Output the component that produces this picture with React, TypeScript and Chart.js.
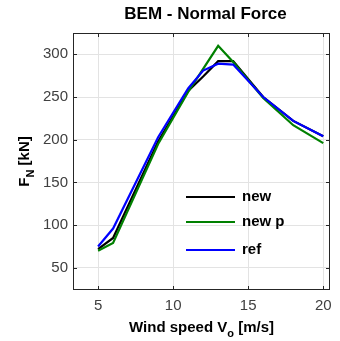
import React, { useEffect, useRef } from "react";
import { Chart, registerables } from "chart.js";

Chart.register(...registerables);

const xNew = [5, 6, 9, 11, 12, 13, 14, 16, 18, 20];
const yNew = [72, 85, 198, 257, 274, 292, 292, 250, 222, 204];
const xNewP = [5, 6, 9, 11, 13, 14, 16, 18, 20];
const yNewP = [70, 79, 195, 256, 310, 291, 249, 217, 196];
const xRef = [5, 6, 9, 11, 12, 13, 14, 16, 18, 20];
const yRef = [75, 96, 203, 260, 281, 289, 288, 250, 222, 204];

const xTicks = [5, 10, 15, 20];
const yTicks = [50, 100, 150, 200, 250, 300];
const seriesNames = ["new", "new p", "ref"];
const seriesColors = ["#000000", "#008000", "#0000ff"];

const FONT = "'Liberation Sans', Arial, Helvetica, sans-serif";

const toPts = (xs: number[], ys: number[]) => xs.map((x, i) => ({ x, y: ys[i] }));

const decorPlugin = {
  id: "decor",
  afterDraw(chart: any) {
    const ctx = chart.ctx;
    const { left, right, top, bottom } = chart.chartArea;
    const xs = chart.scales.x;
    const ys = chart.scales.y;
    ctx.save();
    // box
    ctx.strokeStyle = "#262626";
    ctx.lineWidth = 1;
    ctx.strokeRect(left + 0.5, top + 0.5, right - left - 1, bottom - top - 1);
    // inward ticks
    const tl = 4;
    ctx.beginPath();
    for (const v of xTicks) {
      const px = Math.round(xs.getPixelForValue(v)) + 0.5;
      ctx.moveTo(px, bottom);
      ctx.lineTo(px, bottom - tl);
      ctx.moveTo(px, top);
      ctx.lineTo(px, top + tl);
    }
    for (const v of yTicks) {
      const py = Math.round(ys.getPixelForValue(v)) + 0.5;
      ctx.moveTo(left, py);
      ctx.lineTo(left + tl, py);
      ctx.moveTo(right, py);
      ctx.lineTo(right - tl, py);
    }
    ctx.stroke();

    // title
    ctx.fillStyle = "#000000";
    ctx.font = `bold 17px ${FONT}`;
    ctx.textAlign = "center";
    ctx.textBaseline = "alphabetic";
    ctx.fillText("BEM - Normal Force", (left + right) / 2 + 4, 19);

    // x axis title with subscript
    const big = `bold 15px ${FONT}`;
    const small = `bold 11px ${FONT}`;
    const p1 = "Wind speed V";
    const sub = "o";
    const p2 = " [m/s]";
    ctx.font = big;
    const w1 = ctx.measureText(p1).width;
    const w3 = ctx.measureText(p2).width;
    ctx.font = small;
    const w2 = ctx.measureText(sub).width;
    const total = w1 + w2 + w3;
    let sx = (left + right) / 2 - total / 2;
    const by = 332;
    ctx.textAlign = "left";
    ctx.font = big;
    ctx.fillText(p1, sx, by);
    ctx.font = small;
    ctx.fillText(sub, sx + w1, by + 5);
    ctx.font = big;
    ctx.fillText(p2, sx + w1 + w2, by);

    // y axis title with subscript (rotated)
    const q1 = "F";
    const qs = "N";
    const q2 = " [kN]";
    ctx.font = big;
    const v1 = ctx.measureText(q1).width;
    const v3 = ctx.measureText(q2).width;
    ctx.font = small;
    const v2 = ctx.measureText(qs).width;
    const vt = v1 + v2 + v3;
    ctx.translate(29, (top + bottom) / 2);
    ctx.rotate(-Math.PI / 2);
    let qx = -vt / 2;
    ctx.font = big;
    ctx.fillText(q1, qx, 0);
    ctx.font = small;
    ctx.fillText(qs, qx + v1, 5);
    ctx.font = big;
    ctx.fillText(q2, qx + v1 + v2, 0);
    ctx.setTransform(1, 0, 0, 1, 0, 0);

    // legend
    const lx0 = 186;
    const lx1 = 235;
    const ly = [197, 222, 250];
    ctx.lineWidth = 2;
    ctx.font = `bold 15px ${FONT}`;
    ctx.textBaseline = "middle";
    for (let i = 0; i < 3; i++) {
      ctx.strokeStyle = seriesColors[i];
      ctx.beginPath();
      ctx.moveTo(lx0, ly[i]);
      ctx.lineTo(lx1, ly[i]);
      ctx.stroke();
      ctx.fillStyle = "#000000";
      ctx.fillText(seriesNames[i], 242, ly[i]);
    }
    ctx.restore();
  },
};

export default function App() {
  const ref = useRef<HTMLCanvasElement | null>(null);
  useEffect(() => {
    document.body.style.margin = "0";
    const canvas = ref.current;
    if (!canvas) return;
    const chart = new Chart(canvas, {
      type: "line",
      data: {
        datasets: [
          {
            label: seriesNames[0],
            data: toPts(xNew, yNew),
            borderColor: seriesColors[0],
            borderWidth: 2.2,
            pointRadius: 0,
            tension: 0,
            fill: false,
            order: 3,
          },
          {
            label: seriesNames[1],
            data: toPts(xNewP, yNewP),
            borderColor: seriesColors[1],
            borderWidth: 2.2,
            pointRadius: 0,
            tension: 0,
            fill: false,
            order: 2,
          },
          {
            label: seriesNames[2],
            data: toPts(xRef, yRef),
            borderColor: seriesColors[2],
            borderWidth: 2.2,
            pointRadius: 0,
            tension: 0,
            fill: false,
            order: 1,
          },
        ],
      },
      options: {
        animation: false,
        responsive: false,
        events: [],
        layout: { padding: { top: 33, right: 10, left: 0, bottom: 0 } },
        plugins: {
          legend: { display: false },
          title: { display: false },
          tooltip: { enabled: false },
        },
        scales: {
          x: {
            type: "linear",
            min: 3.33,
            max: 20.45,
            afterBuildTicks: (s: any) => {
              s.ticks = xTicks.map((v) => ({ value: v }));
            },
            afterFit: (s: any) => {
              s.height = 51;
            },
            grid: { color: "#e3e3e3", drawTicks: false, lineWidth: 1 },
            border: { display: false },
            ticks: {
              color: "#404040",
              font: { family: FONT, size: 15 },
              padding: 7,
              maxRotation: 0,
              autoSkip: false,
            },
          },
          y: {
            type: "linear",
            min: 24,
            max: 325,
            afterBuildTicks: (s: any) => {
              s.ticks = yTicks.map((v) => ({ value: v }));
            },
            afterFit: (s: any) => {
              s.width = 73;
            },
            grid: { color: "#e3e3e3", drawTicks: false, lineWidth: 1 },
            border: { display: false },
            ticks: {
              color: "#404040",
              font: { family: FONT, size: 15 },
              padding: 5,
              autoSkip: false,
            },
          },
        },
      },
      plugins: [decorPlugin],
    });
    return () => chart.destroy();
  }, []);
  return <canvas ref={ref} width={340} height={341} style={{ display: "block" }} />;
}
